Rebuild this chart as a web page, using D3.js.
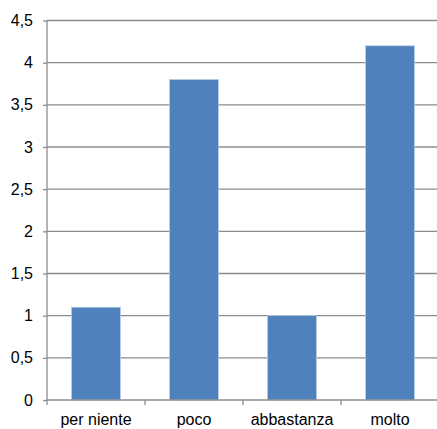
<!DOCTYPE html>
<html>
<head>
<meta charset="utf-8">
<script src="https://cdn.jsdelivr.net/npm/d3@7"></script>
<style>
  html, body { margin: 0; padding: 0; background: #fff; }
  svg text { font-family: "Liberation Sans", Arial, sans-serif; font-size: 16px; fill: #000; }
</style>
</head>
<body>
<svg id="chart" width="437" height="429"></svg>
<script>
const categories = ["per niente", "poco", "abbastanza", "molto"];
const values = [1.1, 3.8, 1.0, 4.2];
const yTicks = [0, 0.5, 1, 1.5, 2, 2.5, 3, 3.5, 4, 4.5];

const svg = d3.select("#chart");
const plotLeft = 47, plotRight = 439, plotTop = 20.5, plotBottom = 400;

const x = d3.scaleBand().domain(categories).range([plotLeft, plotRight]).paddingInner(0.5).paddingOuter(0.25);
const band = d3.scaleBand().domain(categories).range([plotLeft, plotRight]);
const y = d3.scaleLinear().domain([0, 4.5]).range([plotBottom, plotTop]);

const fmt = v => String(v).replace(".", ",");

// horizontal gridlines
svg.append("g").selectAll("line").data(yTicks.filter(t => t > 0)).join("line")
  .attr("x1", plotLeft).attr("x2", plotRight)
  .attr("y1", d => y(d)).attr("y2", d => y(d))
  .attr("stroke", "#8c8c8c").attr("stroke-width", 1.3);

// bars
svg.append("g").selectAll("rect").data(categories).join("rect")
  .attr("x", d => x(d))
  .attr("width", x.bandwidth())
  .attr("y", (d, i) => y(values[i]))
  .attr("height", (d, i) => y(0) - y(values[i]))
  .attr("fill", "#4F81BD")
  .attr("stroke", "#B9CDE5").attr("stroke-width", 0.8);

// y axis
const yAxis = d3.axisLeft(y).tickValues(yTicks).tickFormat(fmt).tickSize(4).tickPadding(10);
const gy = svg.append("g").attr("transform", `translate(${plotLeft},0)`).call(yAxis);
gy.select(".domain").attr("stroke", "#8c8c8c").attr("stroke-width", 1.3).attr("d", `M0,${plotTop}V${plotBottom}`);
gy.selectAll(".tick line").attr("stroke", "#8c8c8c").attr("stroke-width", 1.3);

// x axis
const xAxis = d3.axisBottom(band).tickSize(0).tickPadding(14);
const gx = svg.append("g").attr("transform", `translate(0,${plotBottom})`).call(xAxis);
gx.select(".domain").attr("stroke", "#8c8c8c").attr("stroke-width", 1.3).attr("d", `M${plotLeft},0H${plotRight}`);

// category separator ticks
const seps = categories.map(c => band(c)).concat([plotRight]);
gx.append("g").selectAll("line").data(seps).join("line")
  .attr("x1", d => d).attr("x2", d => d)
  .attr("y1", 0).attr("y2", 5)
  .attr("stroke", "#8c8c8c").attr("stroke-width", 1.3);
</script>
</body>
</html>
